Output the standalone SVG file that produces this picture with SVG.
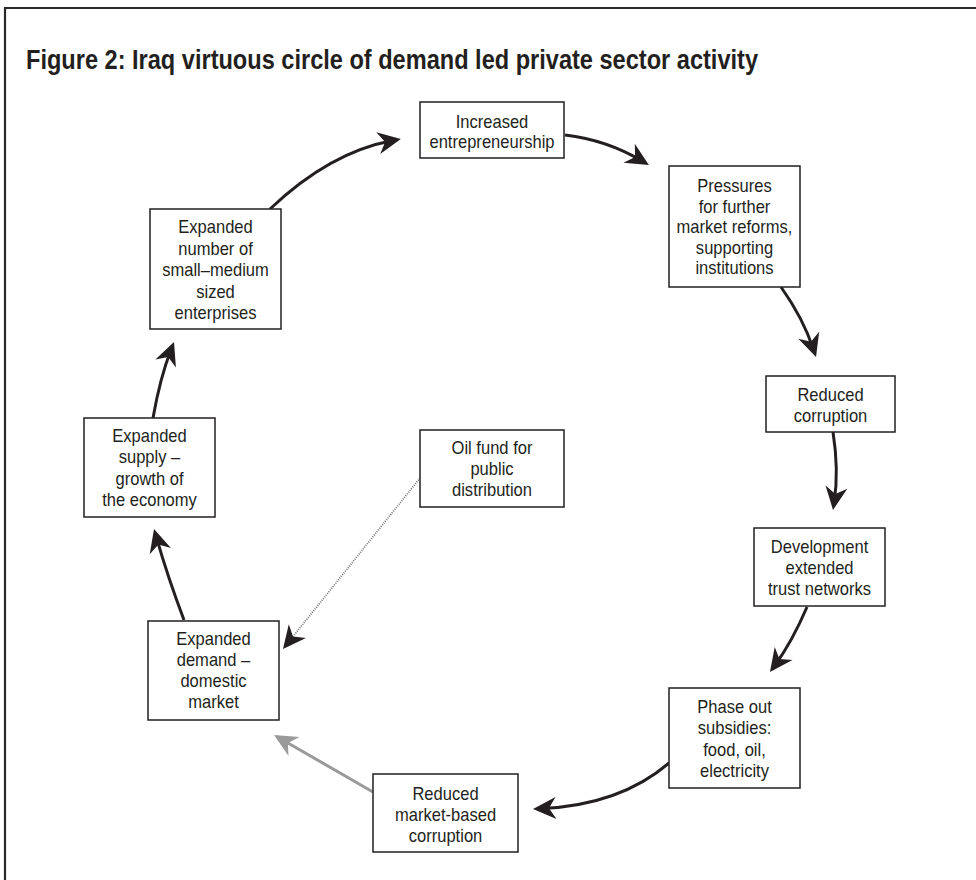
<svg xmlns="http://www.w3.org/2000/svg" width="976" height="880" viewBox="0 0 976 880">
<style>
.box{fill:#fff;stroke:#231f20;stroke-width:1.5}
.t{font-family:"Liberation Sans",Arial,sans-serif;font-size:18px;fill:#231f20;text-anchor:middle}
.c{fill:none;stroke:#231f20;stroke-width:3}
.g{fill:none;stroke:#9a9a9a;stroke-width:3}
.d{fill:none;stroke:#7a7a7a;stroke-width:1.8;stroke-dasharray:1 1.2}
</style>
<defs>
<marker id="ah" viewBox="-16 -12 26 24" refX="0" refY="0" markerWidth="26" markerHeight="24" markerUnits="userSpaceOnUse" orient="auto">
<path d="M8,0 L-15,-11 L-8,0 L-15,11 Z" fill="#231f20"/>
</marker>
<marker id="ahg" viewBox="-16 -12 26 24" refX="0" refY="0" markerWidth="26" markerHeight="24" markerUnits="userSpaceOnUse" orient="auto">
<path d="M8,0 L-15,-11 L-8,0 L-15,11 Z" fill="#9a9a9a"/>
</marker>
</defs>
<rect width="976" height="880" fill="#fff"/>
<path d="M5,880 V8 H976" fill="none" stroke="#2a2a2a" stroke-width="2.2"/>
<text x="26" y="69" font-family="'Liberation Sans',Arial,sans-serif" font-weight="bold" font-size="27" fill="#231f20" textLength="732" lengthAdjust="spacingAndGlyphs">Figure 2: Iraq virtuous circle of demand led private sector activity</text>

<g id="connectors">
<path class="c" d="M270,209 Q330,152 393,140.5" marker-end="url(#ah)"/>
<path class="c" d="M565,135 Q607,140 642,161" marker-end="url(#ah)"/>
<path class="c" d="M781,287 Q803,318 813.5,349.4" marker-end="url(#ah)"/>
<path class="c" d="M833,432 Q839,470 834.2,502" marker-end="url(#ah)"/>
<path class="c" d="M807,607 Q792,642 774.7,665.5" marker-end="url(#ah)"/>
<path class="c" d="M669,763 Q620,805 541,808.6" marker-end="url(#ah)"/>
<path class="g" d="M373,792 L281,739" marker-end="url(#ahg)"/>
<path class="c" d="M184,620 Q168,578 156.2,536.7" marker-end="url(#ah)"/>
<path class="c" d="M153,418 Q160,378 171.1,349.5" marker-end="url(#ah)"/>
<path class="d" d="M420,478 L288,642.8" marker-end="url(#ah)"/>
</g>

<g id="n-entrepreneurship">
<rect class="box" x="420" y="102" width="144" height="56"/>
<text class="t" transform="translate(492 128) scale(.92 1)">Increased</text>
<text class="t" transform="translate(492 148) scale(.92 1)">entrepreneurship</text>
</g>
<g id="n-pressures">
<rect class="box" x="669" y="166" width="131" height="121"/>
<text class="t" transform="translate(734.5 192) scale(.92 1)">Pressures</text>
<text class="t" transform="translate(734.5 212.5) scale(.92 1)">for further</text>
<text class="t" transform="translate(734.5 233) scale(.92 1)">market reforms,</text>
<text class="t" transform="translate(734.5 253.5) scale(.92 1)">supporting</text>
<text class="t" transform="translate(734.5 274) scale(.92 1)">institutions</text>
</g>
<g id="n-reduced-corruption">
<rect class="box" x="766" y="376" width="129" height="56"/>
<text class="t" transform="translate(830.5 401) scale(.92 1)">Reduced</text>
<text class="t" transform="translate(830.5 421.5) scale(.92 1)">corruption</text>
</g>
<g id="n-development">
<rect class="box" x="754" y="528" width="131" height="78"/>
<text class="t" transform="translate(819.5 553) scale(.92 1)">Development</text>
<text class="t" transform="translate(819.5 574) scale(.92 1)">extended</text>
<text class="t" transform="translate(819.5 595) scale(.92 1)">trust networks</text>
</g>
<g id="n-phase-out">
<rect class="box" x="669" y="688" width="131" height="100"/>
<text class="t" transform="translate(734.5 713) scale(.92 1)">Phase out</text>
<text class="t" transform="translate(734.5 734.3) scale(.92 1)">subsidies:</text>
<text class="t" transform="translate(734.5 755.7) scale(.92 1)">food, oil,</text>
<text class="t" transform="translate(734.5 777) scale(.92 1)">electricity</text>
</g>
<g id="n-market-corruption">
<rect class="box" x="373" y="774" width="145" height="78"/>
<text class="t" transform="translate(445.5 799.5) scale(.92 1)">Reduced</text>
<text class="t" transform="translate(445.5 820.5) scale(.92 1)">market-based</text>
<text class="t" transform="translate(445.5 841.5) scale(.92 1)">corruption</text>
</g>
<g id="n-demand">
<rect class="box" x="148" y="621" width="131" height="99"/>
<text class="t" transform="translate(213.5 645) scale(.92 1)">Expanded</text>
<text class="t" transform="translate(213.5 666) scale(.92 1)">demand –</text>
<text class="t" transform="translate(213.5 687) scale(.92 1)">domestic</text>
<text class="t" transform="translate(213.5 708) scale(.92 1)">market</text>
</g>
<g id="n-supply">
<rect class="box" x="84" y="418" width="131" height="99"/>
<text class="t" transform="translate(149.5 442) scale(.92 1)">Expanded</text>
<text class="t" transform="translate(149.5 463.3) scale(.92 1)">supply –</text>
<text class="t" transform="translate(149.5 484.7) scale(.92 1)">growth of</text>
<text class="t" transform="translate(149.5 506) scale(.92 1)">the economy</text>
</g>
<g id="n-sme">
<rect class="box" x="150" y="209" width="131" height="120"/>
<text class="t" transform="translate(215.5 233) scale(.92 1)">Expanded</text>
<text class="t" transform="translate(215.5 254.5) scale(.92 1)">number of</text>
<text class="t" transform="translate(215.5 276) scale(.92 1)">small–medium</text>
<text class="t" transform="translate(215.5 297.5) scale(.92 1)">sized</text>
<text class="t" transform="translate(215.5 319) scale(.92 1)">enterprises</text>
</g>
<g id="n-oil-fund">
<rect class="box" x="420" y="430" width="144" height="77"/>
<text class="t" transform="translate(492 454) scale(.92 1)">Oil fund for</text>
<text class="t" transform="translate(492 475) scale(.92 1)">public</text>
<text class="t" transform="translate(492 496) scale(.92 1)">distribution</text>
</g>
</svg>
